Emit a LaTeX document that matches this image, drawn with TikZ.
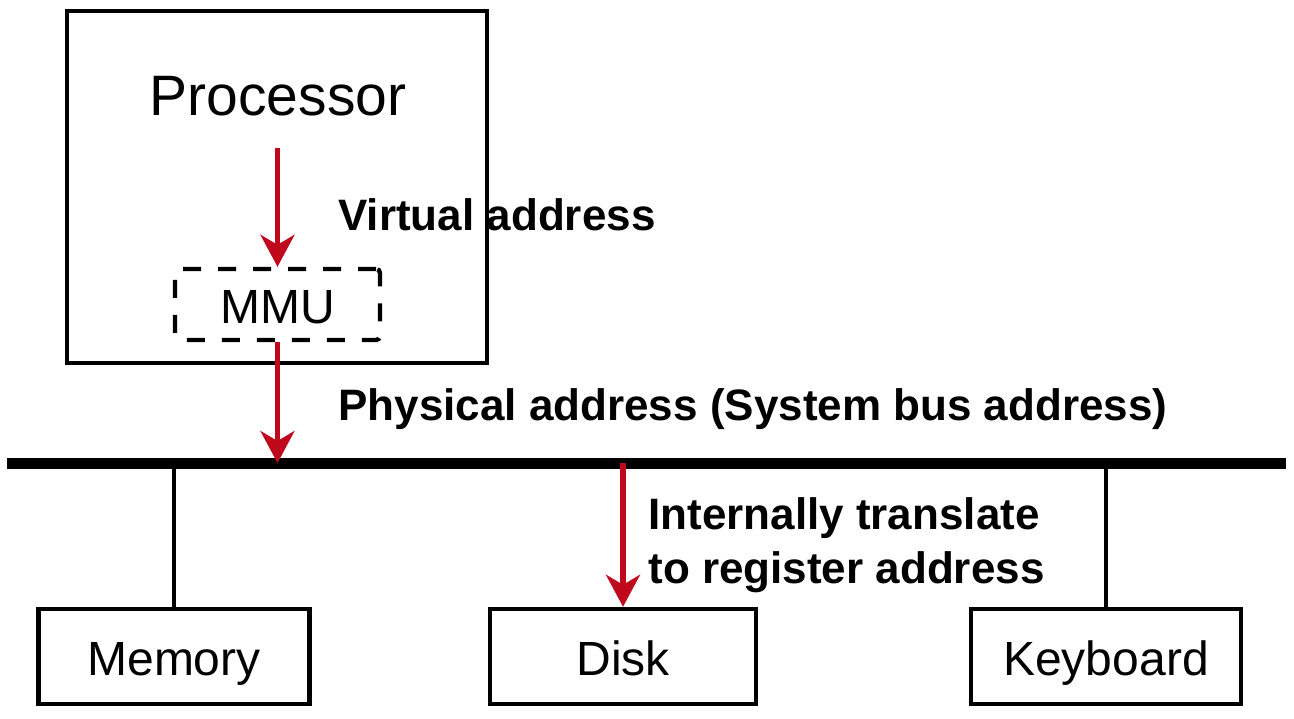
\documentclass[tikz,border=0pt]{standalone}
\usepackage{fontspec}
\setmainfont{Liberation Sans}
\usetikzlibrary{arrows.meta}
\definecolor{arrowred}{RGB}{192,8,28}

\begin{document}
\begin{tikzpicture}[
  x=0.5pt, y=-0.5pt,
  box/.style={draw, rectangle, line width=2.2pt, inner sep=0pt, text height=18.5pt, text depth=0pt, font=\fontsize{24}{28}\selectfont},
  mmubox/.style={box, dash pattern=on 9pt off 8.5pt, rounded corners=2pt},
  edge/.style={-{Stealth[length=16pt,width=17pt,inset=5pt]}, line width=2.6pt, draw=arrowred},
  lbl/.style={inner sep=0pt, font=\fontsize{22}{27}\selectfont\bfseries},
  bus/.style={line width=5.5pt},
  link/.style={line width=2.2pt}
]
\useasboundingbox (0,0) rectangle (1294,718);

% Processor with its MMU
\node[box, minimum width=210pt, minimum height=176pt] (proc) at (277,187) {};
\node[inner sep=0pt, anchor=base, font=\fontsize{28.5}{33}\selectfont] (proctext) at (278,115) {Processor};
\node[mmubox, minimum width=102.5pt, minimum height=35.5pt] (mmu) at (277.5,304.5) {MMU};

% System bus
\coordinate (busL) at (7,463);
\coordinate (busR) at (1286,463);
\draw[bus] (busL) -- (busR);

% Devices
\node[box, minimum width=135.5pt, minimum height=47.5pt] (mem) at (174,656.5) {Memory};
\node[box, minimum width=133pt, minimum height=47.5pt] (disk) at (623,656.5) {Disk};
\node[box, minimum width=135pt, minimum height=47.5pt] (kbd) at (1106,656.5) {Keyboard};

\draw[link] (mem.north) -- (mem.north |- busL);
\draw[link] (kbd.north) -- (kbd.north |- busL);

% Address translation arrows
\coordinate (vstart) at (277.5,148);
\draw[edge] (vstart) -- (mmu.north);
\draw[edge] (mmu.south) -- (mmu.south |- busL);
\draw[edge] (disk.north |- busL) -- (disk.north);

% Labels
\node[lbl, anchor=base west] (vaddr) at (338,230) {Virtual address};
\node[lbl, anchor=base west] (paddr) at (338,420) {Physical address (System bus address)};
\node[lbl, anchor=north west, align=left] (itrans) at (648,497) {Internally translate\\to register address};

\end{tikzpicture}
\end{document}
